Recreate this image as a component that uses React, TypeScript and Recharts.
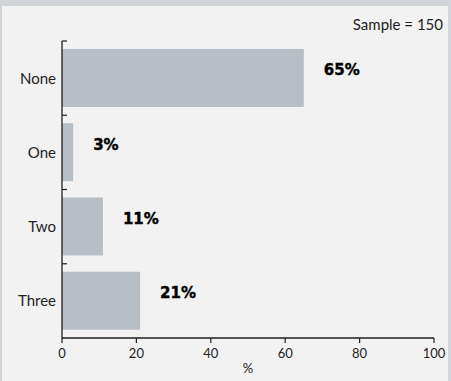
import { BarChart, Bar, XAxis, YAxis, LabelList } from "recharts";

const categories = ["None", "One", "Two", "Three"];
const shares = [65, 3, 11, 21];
const xTicks = [0, 20, 40, 60, 80, 100];
const sampleNote = "Sample = 150";

const data = categories.map((name, i) => ({ name, share: shares[i] }));

const FONT = "Lato, 'Open Sans', sans-serif";
const INK = "#1e1e1e";

// plot box inside the panel
const W = 446;
const H = 375;
const M = { top: 35, right: 14, bottom: 0, left: 0 };
const AXIS_W = 60;
const AXIS_H = 43;
const band = (H - M.top - AXIS_H) / categories.length;

// category label plus a short inward tick at the top edge of each band
function CategoryTick(props: any) {
  const { y, payload } = props;
  const top = y - band / 2;
  return (
    <g>
      <line x1={AXIS_W} x2={AXIS_W + 5} y1={top} y2={top} stroke={INK} strokeWidth={1.2} />
      <text x={AXIS_W - 6} y={y} dy="0.36em" textAnchor="end" fontFamily={FONT} fontSize={15} fill={INK}>
        {payload.value}
      </text>
    </g>
  );
}

function ShareLabel(props: any) {
  const { x, y, width, height, value } = props;
  return (
    <text
      x={x + width + 20}
      y={y + height / 2 - 8}
      dy="0.36em"
      fontFamily="'DejaVu Sans', sans-serif"
      fontWeight={700}
      fontSize={15}
      fill="#000"
      stroke="#000"
      strokeWidth={0.4}
    >
      {value}%
    </text>
  );
}

export default function App() {
  return (
    <div style={{ position: "fixed", left: 0, top: 0, width: 451, height: 381, background: "#d1d4d8" }}>
      <div style={{ position: "absolute", left: 2, top: 6, width: W, height: H, background: "#f2f2f2" }}>
        <div
          style={{
            position: "absolute",
            right: 5,
            top: 9,
            fontFamily: FONT,
            fontSize: 15,
            color: INK,
            lineHeight: "18px",
          }}
        >
          {sampleNote}
        </div>
        <BarChart width={W} height={H} data={data} layout="vertical" margin={M} barSize={58}>
          <XAxis
            type="number"
            domain={[0, 100]}
            ticks={xTicks}
            interval={0}
            axisLine={{ stroke: INK, strokeWidth: 1.3 }}
            tickLine={{ stroke: INK, strokeWidth: 1.2 }}
            tickSize={5}
            tickMargin={6}
            tick={{ fontFamily: FONT, fontSize: 13, fill: INK }}
            height={AXIS_H}
            label={{ value: "%", position: "insideBottom", offset: 8, fontFamily: FONT, fontSize: 13, fill: INK }}
          />
          <YAxis
            type="category"
            dataKey="name"
            width={AXIS_W}
            axisLine={{ stroke: INK, strokeWidth: 1.3 }}
            tickLine={false}
            tick={<CategoryTick />}
          />
          <Bar dataKey="share" fill="#b8bec5" isAnimationActive={false}>
            <LabelList dataKey="share" content={<ShareLabel />} />
          </Bar>
        </BarChart>
      </div>
    </div>
  );
}
